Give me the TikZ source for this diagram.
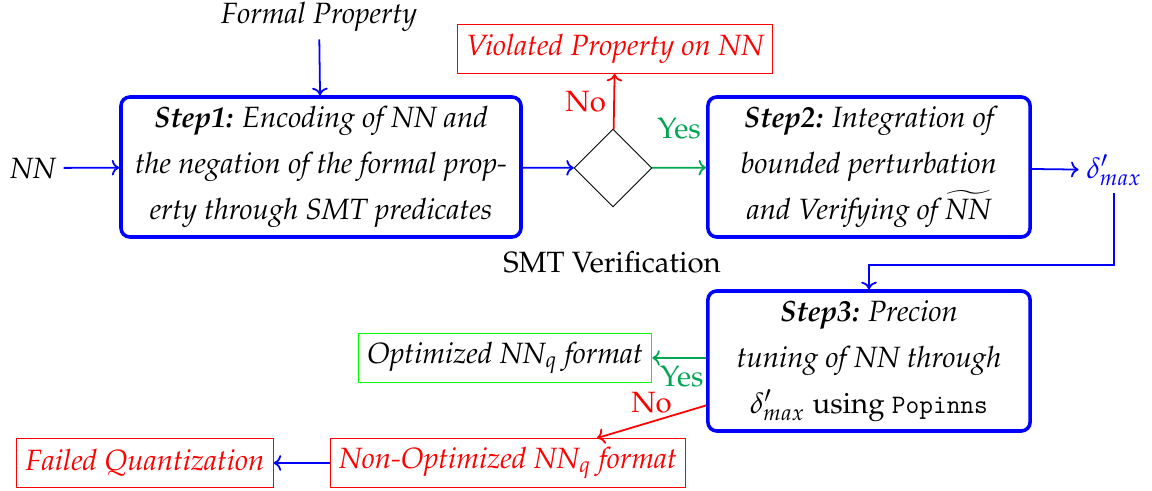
\documentclass[tikz,border=0pt]{standalone}
\usepackage[T1]{fontenc}
\usepackage{mathpazo}
\usepackage{xcolor}
\usetikzlibrary{arrows.meta,positioning,shapes.geometric}
\definecolor{yesgreen}{HTML}{00A651}
\newcommand{\poptt}[1]{{\fontencoding{OT1}\fontfamily{cmtt}\selectfont #1}}

\begin{document}
\begin{tikzpicture}[x=0.45pt,y=-0.45pt,
   every node/.style={font=\fontsize{13.2}{20}\selectfont},
   stepbox/.style={draw=blue,ultra thick,rounded corners=4pt,align=center,font=\fontsize{13.2}{20.5}\selectfont\itshape,minimum height=63pt},
   outbox/.style={draw=#1,font=\fontsize{13.2}{20}\selectfont\itshape,minimum height=22pt,inner xsep=4pt},
   link/.style={->,thick}]
  \useasboundingbox (0,0) rectangle (1152,491);
  % first row
  \node[font=\fontsize{13.2}{20}\selectfont\itshape] (nn) at (33,168) {NN};
  \node[font=\fontsize{13.2}{20}\selectfont\itshape] (fp) at (319,17) {Formal Property};
  \node[stepbox,minimum width=180pt] (s1) at (321,167) {\textbf{Step1:} Encoding of NN and\\the negation of the formal prop-\\erty through SMT predicates};
  \node[diamond,draw,minimum width=35pt,minimum height=35pt,inner sep=0pt] (smt) at (613,168) {};
  \node (smtlbl) at (612,262) {SMT Verification};
  \node[outbox=red,text=red] (viol) at (615,49) {Violated Property on NN};
  \node[stepbox,minimum width=145pt] (s2) at (869,167) {\textbf{Step2:} Integration of\\bounded perturbation\\and Verifying of $\widetilde{\mbox{\itshape NN}}$};
  \node[text=blue] (dm) at (1114,170) {$\delta'_{max}$};
  % second row
  \node[stepbox,minimum width=145pt] (s3) at (869,361) {\textbf{Step3:} Precion\\tuning of NN through\\$\delta'_{max}$ {\upshape using \poptt{Popinns}}};
  \node[outbox=green] (opt) at (505,358) {Optimized NN$_q$ format};
  \node[outbox=red,text=red] (nopt) at (508,463) {Non-Optimized NN$_q$ format};
  \node[outbox=red,text=red] (fail) at (145,463) {Failed Quantization};
  \coordinate (turn) at (869,265);
  % connectors
  \draw[link,blue] (nn) -- (s1);
  \draw[link,blue] (fp) -- (s1);
  \draw[link,blue] (s1) -- (smt);
  \draw[link,red] (smt) -- node[left,text=red]{No} (viol);
  \draw[link,yesgreen] (smt) -- node[above=9pt,text=yesgreen]{Yes} (s2);
  \draw[link,blue] (s2) -- (dm);
  \draw[link,blue] (dm.south) |- (turn) -- (s3);
  \draw[link,yesgreen] (s3.west |- opt) -- node[below,pos=0.45,text=yesgreen]{Yes} (opt);
  \draw[link,red] ([yshift=-20pt]s3.west) -- node[above,text=red]{No} ([xshift=40pt]nopt.north);
  \draw[link,blue] (nopt) -- (fail);
\end{tikzpicture}
\end{document}
